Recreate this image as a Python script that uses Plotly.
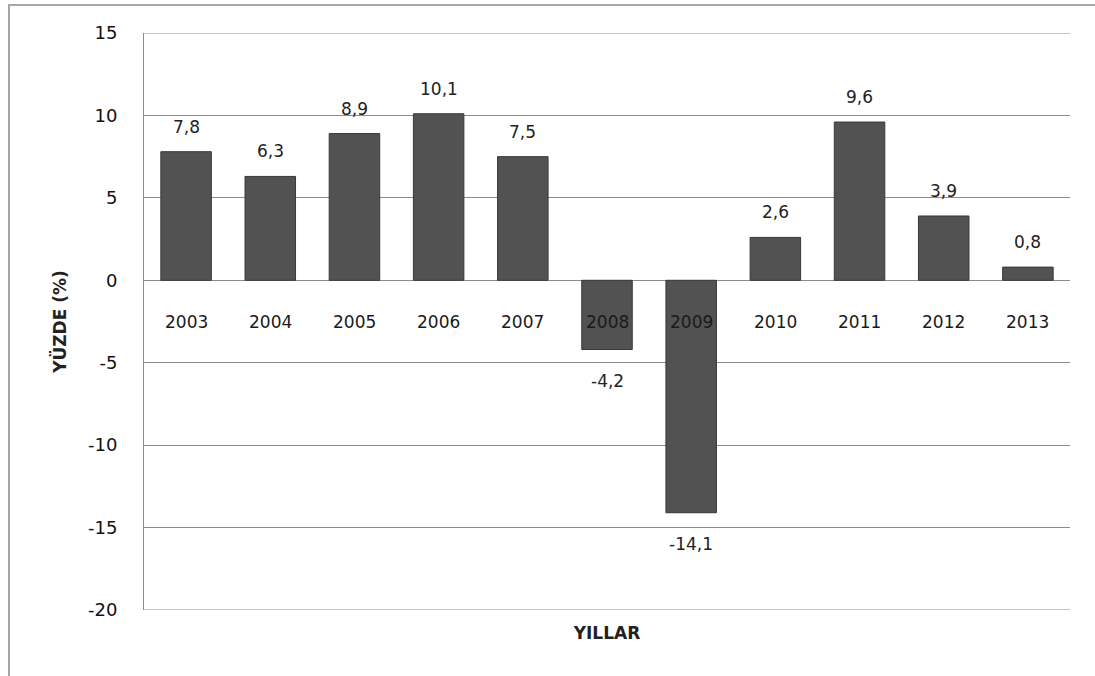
import plotly.graph_objects as go

years = ["2003", "2004", "2005", "2006", "2007", "2008", "2009", "2010", "2011", "2012", "2013"]
values = [7.8, 6.3, 8.9, 10.1, 7.5, -4.2, -14.1, 2.6, 9.6, 3.9, 0.8]
y_ticks = [15, 10, 5, 0, -5, -10, -15, -20]

FONT = "DejaVu Sans"
GRID = "#8c8c8c"

fig = go.Figure()
fig.add_trace(go.Bar(
    x=list(range(len(years))), y=values,
    width=0.6,
    marker=dict(color="#525252", line=dict(color="#383838", width=1)),
    showlegend=False,
    hoverinfo="skip",
))

# data labels (comma decimal), offset from bar ends
for i, v in enumerate(values):
    fig.add_annotation(x=i, y=v, xref="x", yref="y",
                       text=f"{v:.1f}".replace(".", ","), showarrow=False,
                       yshift=25 if v >= 0 else -31,
                       font=dict(family=FONT, size=17, color="#222222"))

# category labels drawn inside the plot, just below the zero line
for i, yr in enumerate(years):
    fig.add_annotation(x=i, y=-2.55, xref="x", yref="y", text=yr, showarrow=False,
                       font=dict(family=FONT, size=17, color="#1a1a1a"))

# top and bottom gridlines (at range edges)
for yv in (y_ticks[0], y_ticks[-1]):
    fig.add_shape(type="line", xref="paper", yref="y", x0=0, x1=1, y0=yv, y1=yv,
                  line=dict(color=GRID, width=1), layer="below")

# outer chart border (top and left only visible)
fig.add_shape(type="rect", xref="paper", yref="paper",
              x0=-0.1458, x1=1.2, y0=-0.3, y1=1.0485,
              line=dict(color="#a6a6a6", width=2), layer="below")

fig.update_layout(
    width=1095, height=676,
    margin=dict(l=144, r=25, t=33, b=66),
    paper_bgcolor="white", plot_bgcolor="white",
    xaxis=dict(range=[-0.5, 10.5], showticklabels=False, showgrid=False,
               showline=False, zeroline=False,
               title=dict(text="<b>YILLAR</b>", font=dict(family=FONT, size=17, color="#222222"),
                          standoff=17)),
    yaxis=dict(range=[-20, 15], tickvals=y_ticks, ticktext=[str(v) for v in y_ticks],
               showgrid=True, gridcolor=GRID, gridwidth=1,
               zeroline=True, zerolinecolor=GRID, zerolinewidth=1,
               showline=True, linecolor=GRID, linewidth=1,
               ticks="", ticklabelstandoff=22,
               tickfont=dict(family=FONT, size=18, color="#111111"),
               title=dict(text="<b>YÜZDE (%)</b>", font=dict(family=FONT, size=17, color="#222222"),
                          standoff=17)),
)

fig.write_html("out.html")
